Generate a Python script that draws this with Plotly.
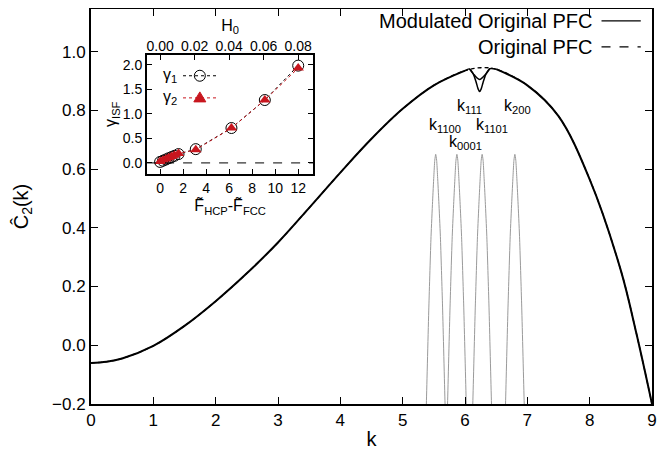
import plotly.graph_objects as go

# ---------------- data ----------------
# main curve (original PFC), k vs C2(k)
k_main = [0.0, 0.25, 0.5, 1.0, 1.5, 2.0, 2.5, 3.0, 3.5, 4.0, 4.5, 5.0, 5.5, 6.0, 6.25, 6.5, 7.0, 7.5, 8.0, 8.5, 8.75, 9.0]
c_orig = [-0.060, -0.056, -0.045, -0.002, 0.066, 0.150, 0.245, 0.350, 0.468, 0.588, 0.703, 0.805, 0.885, 0.935, 0.945, 0.940, 0.885, 0.780, 0.565, 0.255, 0.040, -0.200]

# modulated curve near the peak (two dip branches)
k_dip_deep = [6.0, 6.07, 6.13, 6.18, 6.21, 6.235, 6.26, 6.29, 6.34, 6.40, 6.5]
c_dip_deep = [0.935, 0.941, 0.925, 0.895, 0.873, 0.864, 0.873, 0.895, 0.925, 0.942, 0.940]
k_dip_shallow = [6.07, 6.15, 6.235, 6.32, 6.40]
c_dip_shallow = [0.941, 0.920, 0.905, 0.920, 0.942]

# gray reciprocal-lattice peaks
peak_centers = [5.53, 5.87, 6.275, 6.80]
peak_dk = [-0.17, -0.15, -0.11, -0.075, -0.05, -0.03, -0.015, 0.0, 0.015, 0.03, 0.05, 0.075, 0.11, 0.15, 0.17]
peak_c = [-0.35, -0.20, 0.13, 0.37, 0.49, 0.575, 0.630, 0.650, 0.630, 0.575, 0.49, 0.37, 0.13, -0.20, -0.35]
peak_labels = ["k<sub>1100</sub>", "k<sub>0001</sub>", "k<sub>111</sub>", "k<sub>1101</sub>", "k<sub>200</sub>"]

# inset data
F_diff = [0.0, 0.25, 0.5, 0.75, 1.0, 1.25, 1.6, 3.1, 6.2, 9.1, 12.0]
gamma1 = [0.02, 0.045, 0.07, 0.095, 0.12, 0.145, 0.18, 0.28, 0.71, 1.28, 1.98]
gamma2 = [0.03, 0.055, 0.08, 0.105, 0.13, 0.155, 0.19, 0.27, 0.71, 1.28, 1.93]
H0_ticks = [0.00, 0.02, 0.04, 0.06, 0.08]

RED = "#c8161e"
FONT = "Liberation Sans, Arial, Helvetica, sans-serif"

fig = go.Figure()

# gray peaks
for i, kc in enumerate(peak_centers):
    fig.add_trace(go.Scatter(
        x=[kc + d for d in peak_dk], y=peak_c, mode="lines",
        line=dict(color="#9a9a9a", width=1, shape="spline", smoothing=0.6),
        showlegend=False, hoverinfo="skip"))

# original PFC (dashed)
fig.add_trace(go.Scatter(x=k_main, y=c_orig, mode="lines",
                         line=dict(color="black", width=1.3, dash="4px,3px", shape="spline", smoothing=1.0),
                         showlegend=False))

# modulated: main solid curve except dip region
k_mod = [k for k in k_main if k <= 6.0] + [None] + [k for k in k_main if k >= 6.5]
c_mod = [c for k, c in zip(k_main, c_orig) if k <= 6.0] + [None] + [c for k, c in zip(k_main, c_orig) if k >= 6.5]
fig.add_trace(go.Scatter(x=k_mod, y=c_mod, mode="lines",
                         line=dict(color="black", width=2, shape="spline", smoothing=1.0),
                         connectgaps=False, showlegend=False))
fig.add_trace(go.Scatter(x=k_dip_deep, y=c_dip_deep, mode="lines",
                         line=dict(color="black", width=1.5, shape="spline", smoothing=0.8),
                         showlegend=False))
fig.add_trace(go.Scatter(x=k_dip_shallow, y=c_dip_shallow, mode="lines",
                         line=dict(color="black", width=1.5, shape="spline", smoothing=0.8),
                         showlegend=False))

# inset traces
fig.add_trace(go.Scatter(x=F_diff, y=gamma1, xaxis="x2", yaxis="y2", mode="lines+markers",
                         line=dict(color="black", width=1, dash="dot"),
                         marker=dict(symbol="circle-open", size=11, color="black", line=dict(width=1)),
                         showlegend=False))
fig.add_trace(go.Scatter(x=F_diff, y=gamma2, xaxis="x2", yaxis="y2", mode="lines+markers",
                         line=dict(color=RED, width=1, dash="dot"),
                         marker=dict(symbol="triangle-up", size=10, color=RED),
                         showlegend=False))
# top H0 axis (invisible helper trace)
fig.add_trace(go.Scatter(x=H0_ticks, y=[None] * len(H0_ticks), xaxis="x3", yaxis="y2",
                         mode="markers", showlegend=False, hoverinfo="skip"))

# ---------------- layout ----------------
ax_common = dict(showline=True, linecolor="black", linewidth=2, ticks="inside",
                 tickcolor="black", ticklen=7, tickwidth=1, showgrid=False, zeroline=False,
                 automargin=False, tickfont=dict(family=FONT, size=17, color="black"))

inset_x = [0.100, 0.396]
inset_y = [0.583, 0.884]
F_range = [-1.13, 13.3]
inset_tick = dict(family=FONT, size=14, color="black")

# the page body adds an 8px offset, so the figure is drawn 8px smaller
fig.update_layout(
    width=658, height=442,
    margin=dict(l=83, r=14, t=1, b=46),
    paper_bgcolor="white", plot_bgcolor="white",
    font=dict(family=FONT, color="black"),
    xaxis=dict(**ax_common, range=[0, 9], dtick=1, mirror="ticks",
               title=dict(text="k", font=dict(size=20), standoff=4)),
    yaxis=dict(**ax_common, range=[-0.2, 1.145], tickvals=[-0.2, 0, 0.2, 0.4, 0.6, 0.8, 1.0],
               tickformat=".1f", mirror="ticks",
               title=dict(text="Ĉ<sub>2</sub>(k)", font=dict(size=20), standoff=18)),
    xaxis2=dict(showline=True, linecolor="black", linewidth=2, ticks="inside", tickcolor="black",
                ticklen=5, showgrid=False, zeroline=False, mirror=True, automargin=False,
                domain=inset_x, anchor="y2", range=F_range, tickvals=[0, 2, 4, 6, 8, 10, 12],
                tickfont=inset_tick,
                title=dict(text="F̃<sub>HCP</sub>-F̃<sub>FCC</sub>", font=dict(size=16), standoff=2)),
    yaxis2=dict(showline=True, linecolor="black", linewidth=2, ticks="inside", tickcolor="black",
                ticklen=5, showgrid=False, zeroline=False, mirror="ticks", automargin=False,
                domain=inset_y, anchor="x2", range=[-0.22, 2.2], tickvals=[0, 0.5, 1.0, 1.5, 2.0],
                tickformat=".1f", tickfont=inset_tick,
                title=dict(text="γ<sub>ISF</sub>", font=dict(size=16), standoff=2)),
    xaxis3=dict(overlaying="x2", side="top", anchor="y2", showline=False, ticks="inside",
                tickcolor="black", ticklen=5, showgrid=False, zeroline=False, automargin=False,
                range=[F_range[0] * 0.08 / 12, F_range[1] * 0.08 / 12], tickvals=H0_ticks,
                tickformat=".2f", tickfont=inset_tick,
                title=dict(text="H<sub>0</sub>", font=dict(size=16), standoff=2)),
)

# inset zero dashed line
fig.add_shape(type="line", xref="x2 domain", yref="y2", x0=0, x1=1, y0=0, y1=0,
              line=dict(color="black", width=1, dash="dash"))

# main legend (text left of sample, gnuplot style)
leg_items = [("Modulated Original PFC", "solid", 0.970), ("Original PFC", "dash", 0.904)]
for text, dash, yy in leg_items:
    fig.add_annotation(x=0.897, y=yy, xref="paper", yref="paper", text=text, showarrow=False,
                       xanchor="right", yanchor="middle", font=dict(family=FONT, size=20, color="black"))
    fig.add_shape(type="line", xref="paper", yref="paper", x0=0.91, x1=0.98, y0=yy, y1=yy,
                  line=dict(color="black", width=1.3, dash=dash))

# inset legend
inset_leg = [("γ<sub>1</sub>", "black", 0.831), ("γ<sub>2</sub>", RED, 0.775)]
for i, (text, col, yy) in enumerate(inset_leg):
    fig.add_annotation(x=0.141, y=yy, xref="paper", yref="paper", text=text, showarrow=False,
                       xanchor="center", yanchor="middle", font=dict(family=FONT, size=16, color="black"))
    fig.add_shape(type="line", xref="paper", yref="paper", x0=0.164, x1=0.225, y0=yy, y1=yy,
                  line=dict(color=col, width=1, dash="dot"))
# legend symbols
fig.add_shape(type="circle", xref="paper", yref="paper", xsizemode="pixel", ysizemode="pixel",
              xanchor=0.194, yanchor=0.831, x0=-5.5, x1=5.5, y0=-5.5, y1=5.5,
              line=dict(color="black", width=1), fillcolor="rgba(0,0,0,0)")
fig.add_shape(type="path", xref="paper", yref="paper", xsizemode="pixel", ysizemode="pixel",
              xanchor=0.194, yanchor=0.775, path="M -6 -4 L 6 -4 L 0 6 Z",
              line=dict(color=RED, width=1), fillcolor=RED)

# peak labels
label_pos = [(5.68, 0.747), (6.00, 0.690), (6.08, 0.812), (6.44, 0.747), (6.85, 0.812)]
for text, (lx, ly) in zip(peak_labels, label_pos):
    fig.add_annotation(x=lx, y=ly, xref="x", yref="y", text=text, showarrow=False,
                       font=dict(family=FONT, size=16, color="black"))

fig.write_html("out.html")
